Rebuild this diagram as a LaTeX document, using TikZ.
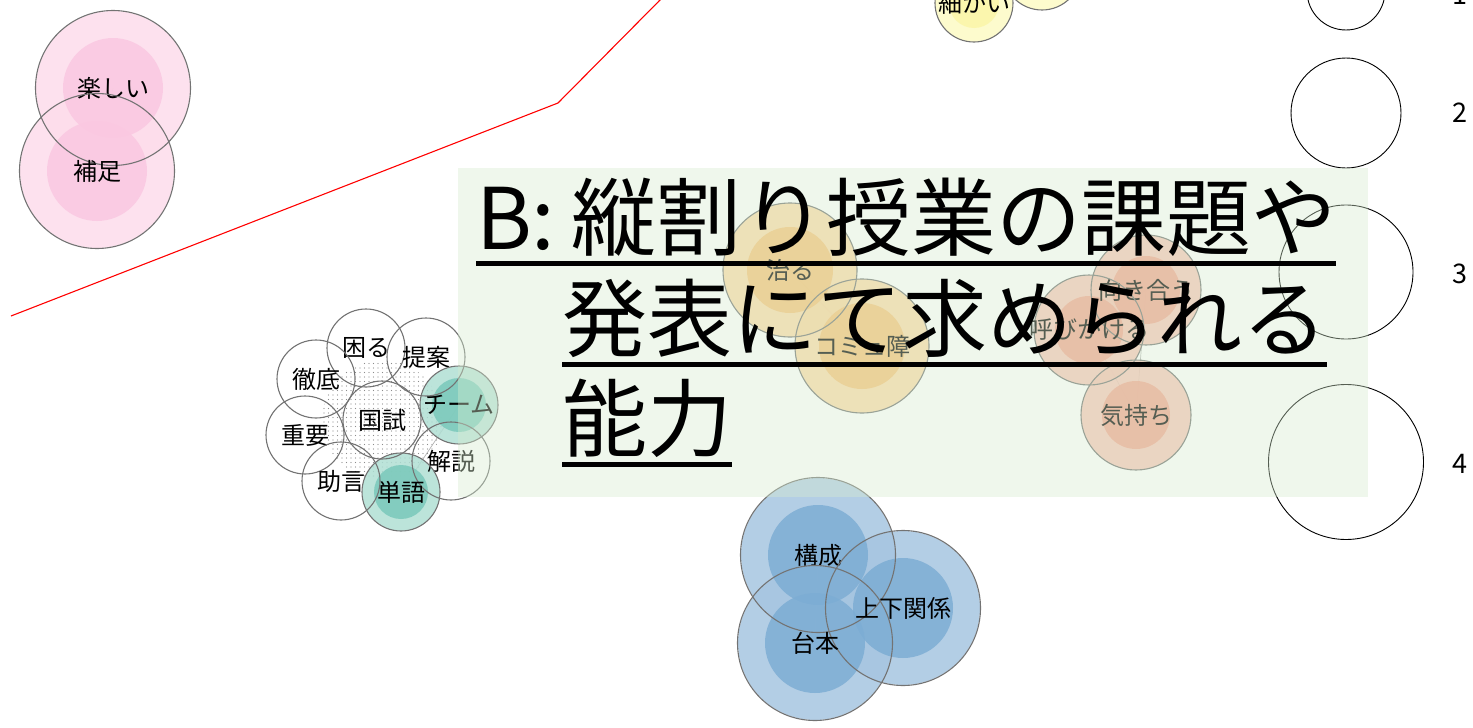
\documentclass[tikz,border=0pt]{standalone}
\usepackage{fontspec}
\newfontfamily\jp{Noto Sans CJK JP}
\usepackage{tikz}
\usetikzlibrary{backgrounds}
\usetikzlibrary{patterns.meta}
\definecolor{pinkout}{RGB}{253,220,235}
\definecolor{pinkin}{RGB}{250,200,225}
\definecolor{blueout}{RGB}{166,197,224}
\definecolor{bluein}{RGB}{125,173,212}
\definecolor{tealout}{RGB}{176,223,212}
\definecolor{tealin}{RGB}{122,201,186}
\definecolor{orangeout}{RGB}{252,212,155}
\definecolor{orangein}{RGB}{249,190,110}
\definecolor{salmonout}{RGB}{247,190,174}
\definecolor{salmonin}{RGB}{244,158,136}
\definecolor{yellowout}{RGB}{253,250,196}
\definecolor{yellowin}{RGB}{251,246,168}
\definecolor{boxgreen}{RGB}{214,235,207}
\definecolor{rim}{RGB}{115,115,115}
\newcommand{\lbl}[1]{\makebox[0pt]{#1}}

\begin{document}
\begin{tikzpicture}[x=1pt,y=-1pt,
    every node/.style={inner sep=0pt, outer sep=0pt},
    s1/.style={minimum size=78pt},
    s2/.style={minimum size=110pt},
    s3/.style={minimum size=134pt},
    s4/.style={minimum size=155pt},
    bubble/.style={circle, draw=rim, line width=1.1pt, font=\jp\fontsize{24}{24}\selectfont},
    link/.style={draw=gray!60, line width=0.7pt},
    title/.style={anchor=base west, font=\jp\fontsize{85}{100}\selectfont},
    uline/.style={line width=5pt},
    legnum/.style={font=\jp\fontsize{27}{27}\selectfont}]
    \useasboundingbox (0,0) rectangle (1473,728);

    % red divider
    \draw[red, line width=1.1pt] (11,316) -- (558,103) -- (661,-1);

    % pink
    \node[bubble, s4] (tanoshii) at (113,88) {\lbl{楽しい}};
    \node[bubble, s4] (hosoku) at (97,171) {\lbl{補足}};

    % yellow
    \node[bubble, s1] (yellow2) at (1042,-29) {};
    \node[bubble, s1] (komakai) at (974,3) {\lbl{細かい}};

    % white cluster round the hub
    \node[bubble, s1] (komaru) at (366,348) {\lbl{困る}};
    \node[bubble, s1] (teian) at (426,357) {\lbl{提案}};
    \node[bubble, s1] (tettei) at (316,379) {\lbl{徹底}};
    \node[bubble, s1] (juuyou) at (305,435) {\lbl{重要}};
    \node[bubble, s1] (kokushi) at (382,420) {\lbl{国試}};
    \node[bubble, s1] (kaisetsu) at (451,461) {\lbl{解説}};
    \node[bubble, s1] (jogen) at (341,481) {\lbl{助言}};
    \node[bubble, s1] (chiimu) at (459,405) {\lbl{チーム}};
    \node[bubble, s1] (tango) at (401,492) {\lbl{単語}};

    % orange
    \node[bubble, s3] (naoru) at (790,270) {\lbl{治る}};
    \node[bubble, s3] (komyu) at (862,346) {\lbl{コミュ障}};

    % salmon
    \node[bubble, s2] (mukiau) at (1146,290) {\lbl{向き合う}};
    \node[bubble, s2] (yobikake) at (1089,330) {\lbl{呼びかける}};
    \node[bubble, s2] (kimochi) at (1136,415) {\lbl{気持ち}};

    % blue
    \node[bubble, s4] (kousei) at (818,555) {\lbl{構成}};
    \node[bubble, s4] (jouge) at (903,608) {\lbl{上下関係}};
    \node[bubble, s4] (daihon) at (815,643) {\lbl{台本}};

    % size legend
    \foreach \i/\y/\ty/\d in {1/-9/-5/78, 2/113/113/110, 3/272/274/134, 4/462/464/155} {
        \node[circle, draw=black, line width=0.9pt, minimum size=\d pt] (leg\i) at (1346,\y) {};
        \node[legnum] (num\i) at (1460,\ty) {\i};
    }

    \begin{scope}[on background layer]
        \fill[pattern={Dots[distance=4.5pt, radius=0.65pt]}, pattern color=gray!90] (kokushi.center) circle[radius=60pt];
        \foreach \a/\b in {tanoshii/hosoku, komakai/yellow2, naoru/komyu, mukiau/yobikake,
                yobikake/kimochi, mukiau/kimochi, kousei/daihon, kousei/jouge, daihon/jouge, tango/chiimu} {
            \draw[link] (\a.center) -- (\b.center);
        }
        % ring then core of every coloured bubble
        \foreach \n/\col/\r/\k in {tanoshii/pink/77/50, hosoku/pink/77/50,
                yellow2/yellow/39/25, komakai/yellow/39/25, chiimu/teal/39/27, tango/teal/39/27,
                naoru/orange/67/43, komyu/orange/67/43, mukiau/salmon/55/34, yobikake/salmon/55/34,
                kimochi/salmon/55/34, kousei/blue/77/50, jouge/blue/77/50, daihon/blue/77/50} {
            \fill[fill=\col out, fill opacity=0.85] (\n.center) circle[radius=\r pt];
        }
        \foreach \n/\col/\r/\k in {tanoshii/pink/77/50, hosoku/pink/77/50,
                yellow2/yellow/39/25, komakai/yellow/39/25, chiimu/teal/39/27, tango/teal/39/27,
                naoru/orange/67/43, komyu/orange/67/43, mukiau/salmon/55/34, yobikake/salmon/55/34,
                kimochi/salmon/55/34, kousei/blue/77/50, jouge/blue/77/50, daihon/blue/77/50} {
            \fill[fill=\col in, fill opacity=0.85] (\n.center) circle[radius=\k pt];
        }
    \end{scope}

    % title panel
    \fill[boxgreen, fill opacity=0.4] (458,168) rectangle (1368,497);
    \node[title] (ttl1) at (476,249) {B:\hspace{16pt}縦割り授業の課題や};
    \node[title] (ttl2) at (562,350) {発表にて求められる};
    \node[title] (ttl3) at (562,450) {能力};
    \foreach \t in {ttl1, ttl2, ttl3} {
        \draw[uline] ([yshift=-14pt]\t.base west) -- ([yshift=-14pt]\t.base east);
    }
\end{tikzpicture}
\end{document}
